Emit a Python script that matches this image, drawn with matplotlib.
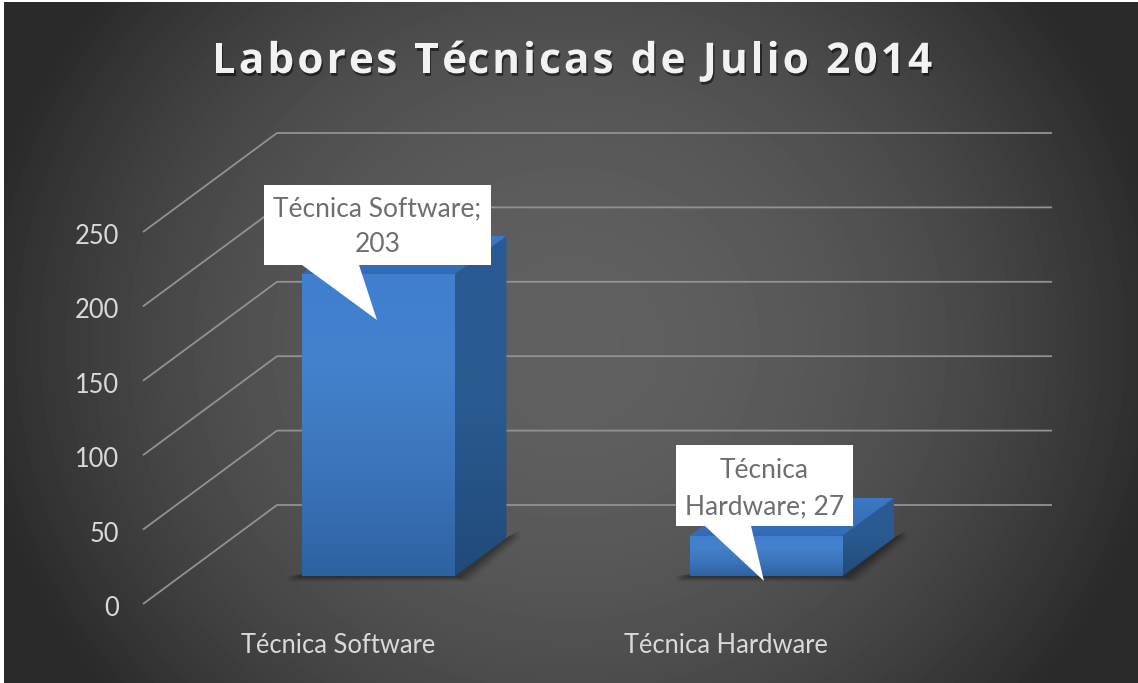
import numpy as np
import matplotlib
matplotlib.use("Agg")
import matplotlib.pyplot as plt
from matplotlib.patches import Polygon
from matplotlib.text import Text
from matplotlib.transforms import Affine2D
from matplotlib import patheffects as pe

categories = ["Técnica Software", "Técnica Hardware"]
values = [203, 27]
callouts = ["Técnica Software;\n203", "Técnica\nHardware; 27"]
y_ticks = [0, 50, 100, 150, 200, 250]
title = "Labores Técnicas de Julio 2014"

W, H = 1138, 683
fig = plt.figure(figsize=(W / 100, H / 100), dpi=100, facecolor="white")
TXT = "Lato"


class TrackedText(Text):
    """A single text artist drawn with extra letter spacing (pixels)."""

    def __init__(self, *args, tracking=0.0, **kwargs):
        super().__init__(*args, **kwargs)
        self.tracking = tracking

    def draw(self, renderer):
        s = self.get_text()
        probe = Text(0, 0, "", figure=self.get_figure(), fontproperties=self.get_fontproperties())

        def width(part):
            probe.set_text(part)
            return probe.get_window_extent(renderer).width

        advance = []
        for i in range(len(s)):
            head = s[:i + 1]
            # keep trailing-space widths by measuring against a sentinel
            advance.append(width(head + "|") - width("|"))
        total = advance[-1] + self.tracking * (len(s) - 1)
        x0, y0 = self.get_transform().transform(self.get_position())
        left = x0 - total / 2
        for i, ch in enumerate(s):
            if ch == " ":
                continue
            start = (advance[i - 1] if i else 0) + self.tracking * i
            t = Text(left + start, y0, ch, transform=Affine2D(), ha="left", va="baseline",
                     color=self.get_color(), fontproperties=self.get_fontproperties(),
                     path_effects=self.get_path_effects(), figure=self.get_figure())
            t.draw(renderer)


# background
bg = fig.add_axes([4 / W, 0, 1 - 4 / W, 1 - 2 / H], zorder=0)
yy, xx = np.mgrid[2:H, 4:W]
nx = (xx - 570) / 566.0
ny = (yy - 342) / 340.0
g = np.clip(1 - 0.89 * (nx ** 2 + 0.42 * ny ** 2), 0, 1)
bg.imshow(42 + 54 * g, cmap="gray", vmin=0, vmax=255, aspect="auto", interpolation="bilinear")
bg.axis("off")

# main axes = front plane of the 3D box
L, R, B, T = 143, 918, 604, 232
ax = fig.add_axes([L / W, 1 - B / H, (R - L) / W, (B - T) / H], zorder=1)
ax.patch.set_alpha(0)
ax.set_xlim(-0.51, 1.49)
ax.set_ylim(0, 250)
for s in ax.spines.values():
    s.set_visible(False)
ax.set_xticks(range(len(categories)), categories)
ax.set_yticks(y_ticks)
ax.tick_params(length=0, labelcolor="#d9d9d9", labelsize=18.4)
ax.tick_params(axis="y", pad=17)
ax.tick_params(axis="x", pad=21)
for t in ax.get_xticklabels():
    t.set_fontfamily(TXT)
    t.set_transform(t.get_transform() + Affine2D().translate(-2.5, 0))
for t in ax.get_yticklabels():
    t.set_fontfamily(TXT)
    t.set_transform(t.get_transform() + Affine2D().translate(0, -2))

sx = (R - L) / 2.0          # pixels per category
sy = (B - T) / 250.0        # pixels per unit
DX, DY = 134 / sx, 99 / sy  # depth of box in data units


def P(x, v, d):
    return (x + DX * d, v + DY * d)


def off(pt, dx, dy):
    """Shift a data point by screen pixels (dy positive = down)."""
    return (pt[0] + dx / sx, pt[1] - dy / sy)


# gridlines
x0, x1 = ax.get_xlim()
for v in y_ticks:
    ax.plot(*zip(P(x0, v, 0), P(x0, v, 1), P(x1, v, 1)), color="#929292", lw=1.3,
            clip_on=False, zorder=2, solid_capstyle="butt")


def gradient_poly(pts, stops, z):
    poly = Polygon(pts, closed=True, transform=ax.transData, facecolor="none",
                   edgecolor="none", clip_on=False)
    ax.add_patch(poly)
    pts = np.array(pts)
    pos = [p for p, _ in stops]
    cols = np.array([matplotlib.colors.to_rgb(c) for _, c in stops])
    t = np.linspace(0, 1, 128)
    arr = np.stack([np.interp(t, pos, cols[:, k]) for k in range(3)], axis=1)[:, None, :]
    im = ax.imshow(arr, extent=(pts[:, 0].min(), pts[:, 0].max(), pts[:, 1].min(), pts[:, 1].max()),
                   aspect="auto", zorder=z, clip_on=True, interpolation="bilinear")
    im.set_clip_path(poly)


FRONT = [(0, "#3f7fce"), (0.3, "#4482cd"), (0.7, "#3a72b8"), (1, "#2e61a2")]
SIDE = [(0, "#2a5a94"), (0.5, "#295a90"), (1, "#214a7a")]
TOP = [(0, "#3c78c4"), (1, "#336cb4")]

W_BAR = 153 / sx
D0, D1 = 28 / 99, 66 / 99
for i, v in enumerate(values):
    xl, xr = i - W_BAR / 2, i + W_BAR / 2
    a0, a1 = P(xr, 0, D0), P(xr, 0, D1)
    b0 = P(xl, 0, D0)
    # soft shadow on the floor
    for grow, a in [(9, .06), (6, .09), (3, .12), (0, .15)]:
        ax.add_patch(Polygon([off(b0, -5 - grow, 0), off(b0, -4 - grow, 2 + grow * .4),
                              off(a0, 6 + grow, 2 + grow * .4), off(a1, 5 + grow, -1 + grow * .2),
                              off(a1, 4 + grow, -3 - grow * .5), a1],
                             closed=True, facecolor="black", edgecolor="none", alpha=a,
                             clip_on=False, zorder=3))
    gradient_poly([P(xr, 0, D0), P(xr, v, D0), P(xr, v, D1), P(xr, 0, D1)], SIDE, 4)
    gradient_poly([P(xl, v, D0), P(xr, v, D0), P(xr, v, D1), P(xl, v, D1)], TOP, 4)
    gradient_poly([P(xl, 0, D0), P(xr, 0, D0), P(xr, v, D0), P(xl, v, D0)], FRONT, 5)

ax.set_xlim(x0, x1)
ax.set_ylim(0, 250)

# pixel coordinates for chart annotations
px = Affine2D().scale(1, -1).translate(0, H)
boxes = [((264, 185, 491, 265), [(302, 265), (377, 320), (359, 265)]),
         ((676, 445, 853, 526), [(705, 526), (764, 581), (751, 526)])]
for (x_a, y_a, x_b, y_b), tail in boxes:
    fig.add_artist(Polygon([(x_a, y_a), (x_b, y_a), (x_b, y_b), (tail[2][0], y_b), tail[1],
                            (tail[0][0], y_b), (x_a, y_b)], closed=True, facecolor="white",
                           edgecolor="none", transform=px, zorder=5))
for ((x_a, y_a, x_b, y_b), _), s, dy in zip(boxes, callouts, (2, 3.5)):
    fig.text((x_a + x_b) / 2 / W, 1 - ((y_a + y_b) / 2 + dy) / H, s, ha="center", va="center",
             color="#6e6e6e", fontsize=19, family=TXT, linespacing=1.55, zorder=6)

tt = TrackedText(572 / W, 1 - 73 / H, title, tracking=3.1, transform=fig.transFigure,
                 color="#f2f2f2", fontsize=30.5, family="Open Sans", fontweight="bold",
                 zorder=6, ha="center", va="baseline",
                 path_effects=[pe.withSimplePatchShadow(offset=(1, -2), shadow_rgbFace="black", alpha=0.5)])
fig.add_artist(tt)

fig.savefig("out.png", dpi=100, facecolor="white")
